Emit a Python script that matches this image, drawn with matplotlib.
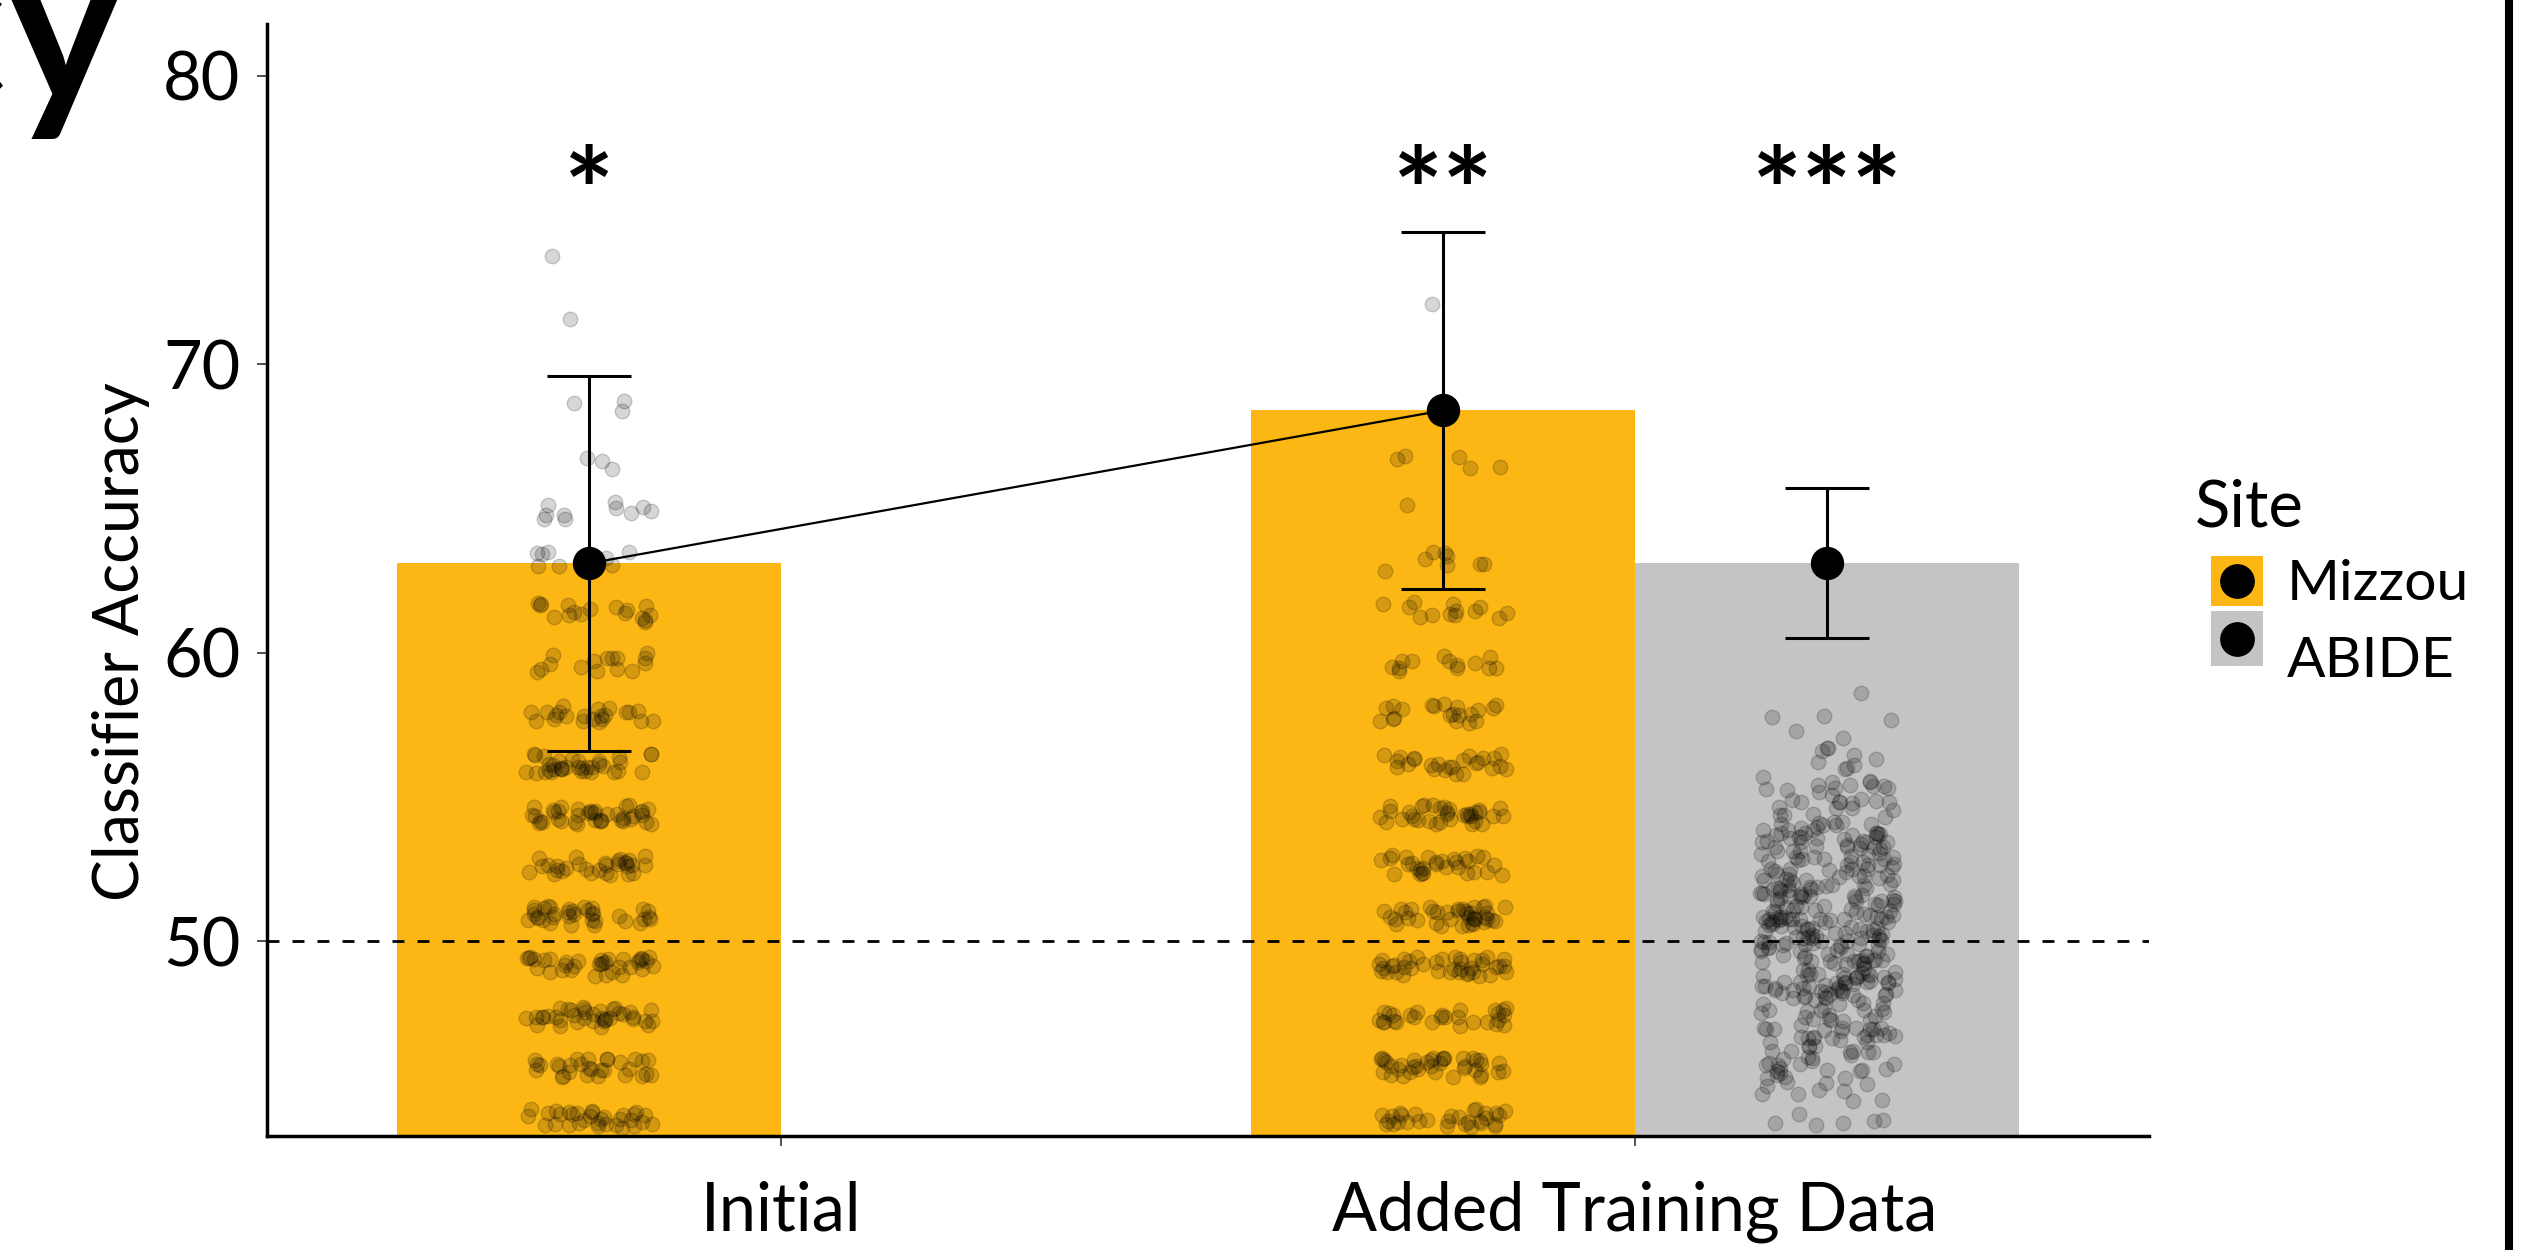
import numpy as np
import matplotlib.pyplot as plt
from matplotlib.patches import Rectangle
from matplotlib.lines import Line2D

plt.rcParams['font.family'] = ['Lato', 'DejaVu Sans']

# bar / summary data
bar_x = [0.775, 1.775, 2.225]
means = [63.1, 68.4, 63.1]
errors = [6.5, 6.2, 2.6]
stars = ['*', '**', '***']
group_ticks = [1, 2]
group_labels = ['Initial', 'Added Training Data']
site_labels = ['Mizzou', 'ABIDE']

mizzou_color = '#FDB714'
abide_color = '#C4C4C4'
bar_colors = [mizzou_color, mizzou_color, abide_color]

# Mizzou accuracies come in steps of 1/57 -> counts per level
mizzou_levels = [43.86, 45.61, 47.37, 49.12, 50.88, 52.63, 54.39, 56.14, 57.89,
                 59.65, 61.40, 63.16, 64.91, 66.67, 68.42, 70.18, 71.93, 73.68]
initial_counts = [32, 30, 38, 35, 35, 30, 40, 35, 22, 15, 17, 10, 10, 3, 3, 0, 1, 1]
added_counts = [30, 38, 28, 40, 40, 30, 35, 25, 20, 13, 13, 8, 1, 5, 0, 0, 1, 0]

# ABIDE accuracies are continuous -> counts per 1% bin
abide_bins = [44, 45, 46, 47, 48, 49, 50, 51, 52, 53, 54, 55, 56, 57, 58, 59]
abide_counts = [8, 15, 24, 32, 40, 45, 48, 48, 45, 40, 30, 22, 10, 5, 3, 1]


def spread(n, seed):
    # deterministic jitter offsets in [-0.5, 0.5)
    i = np.arange(n, dtype=float) + 1
    u = (np.sin(i * 12.9898 + seed * 78.233) * 43758.5453) % 1 - 0.5
    v = (np.sin(i * 39.3468 + seed * 11.135) * 24634.6345) % 1 - 0.5
    return u, v


fig = plt.figure(figsize=(25.4, 12.5), dpi=100)
ax = fig.add_axes([0.105, 0.0912, 0.741, 0.8896])

ax.bar(bar_x, means, width=0.45, color=bar_colors, zorder=1)

pt_style = dict(s=110, facecolor=(0, 0, 0, 0.16), edgecolor=(0, 0, 0, 0.18),
                linewidths=1.0, zorder=2)

for cx, counts, seed in [(bar_x[0], initial_counts, 1), (bar_x[1], added_counts, 7)]:
    ys = np.repeat(mizzou_levels, counts)
    u, v = spread(len(ys), seed)
    ax.scatter(cx + u * 0.15, ys + v * 0.7, **pt_style)

ys = np.repeat(abide_bins, abide_counts).astype(float)
u, v = spread(len(ys), 3)
ax.scatter(bar_x[2] + u * 0.16, ys + v * 1.0, **pt_style)

ax.axhline(50, color='black', lw=2, dashes=(4.3, 4.7), zorder=3)

ax.plot(bar_x[:2], means[:2], color='black', lw=1.6, zorder=4)
ax.errorbar(bar_x, means, yerr=errors, fmt='none', ecolor='black',
            elinewidth=2.2, capsize=30, capthick=2.2, zorder=4)
ax.plot(bar_x, means, 'o', color='black', markersize=23, zorder=5)

for x, s in zip(bar_x, stars):
    ax.text(x, 75.7, s, ha='center', va='center', fontsize=85, fontweight='bold')

ax.set_xlim(0.397, 2.602)
ax.set_ylim(43.24, 81.8)
ax.set_yticks([50, 60, 70, 80])
ax.set_xticks(group_ticks)
ax.set_xticklabels(group_labels)
ax.tick_params(axis='both', length=7, width=1.2, color='#333333', labelsize=48)
ax.tick_params(axis='y', pad=12)
ax.tick_params(axis='x', pad=25)

for side in ['top', 'right']:
    ax.spines[side].set_visible(False)
for side in ['left', 'bottom']:
    ax.spines[side].set_linewidth(2.5)

ax.set_ylabel('Classifier Accuracy', fontsize=45)
ax.yaxis.set_label_coords(-0.062, 0.445)

# legend, drawn by hand in figure pixels
W, H = 2540, 1250
fig.text(2195 / W, 1 - 526 / H, 'Site', ha='left', va='baseline', fontsize=47)
key_rows = [(556, 606, 585), (611, 666, 661)]
for (top, bot, text_y), label, col in zip(key_rows, site_labels, [mizzou_color, abide_color]):
    fig.add_artist(Rectangle((2211 / W, 1 - bot / H), 52 / W, (bot - top) / H,
                             transform=fig.transFigure, facecolor=col, edgecolor='none'))
    fig.add_artist(Line2D([2237 / W], [1 - (top + bot) / 2 / H], transform=fig.transFigure,
                          ls='', marker='o', color='black', markersize=24))
    fig.text(2287 / W, 1 - text_y / H, label, ha='left', va='center', fontsize=41)

# title of the neighbouring panel, cut off at the left edge
fig.text(122 / W, 1 - 102 / H, 'Accuracy', ha='right', va='baseline',
         fontsize=157, fontweight='bold')
fig.add_artist(Line2D([2509 / W, 2509 / W], [0, 1], transform=fig.transFigure,
                      color='black', lw=5.8))

fig.savefig('out.png', dpi=100)
